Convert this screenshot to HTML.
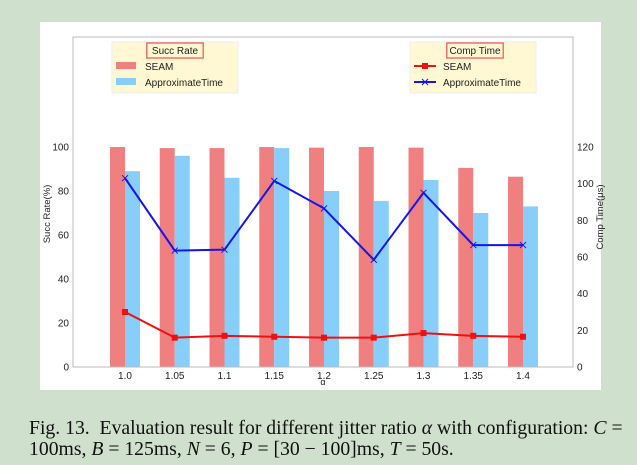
<!DOCTYPE html>
<html><head><meta charset="utf-8"><style>
body{margin:0;width:637px;height:465px;background:#cfe0cc;overflow:hidden;font-family:"Liberation Sans",sans-serif}
#panel{position:absolute;left:40px;top:22px;width:561px;height:368px;background:#fff}
#cap{position:absolute;left:29px;top:418px;font-family:"Liberation Serif",serif;font-size:19.7px;line-height:21px;color:#111;white-space:nowrap}
</style></head><body>
<div id="panel"></div>
<svg id="chart" width="637" height="465" style="position:absolute;left:0;top:0"></svg>
<div id="cap">Fig. 13.&nbsp; Evaluation result for different jitter ratio <i>α</i> with configuration: <i>C</i> =<br>100ms, <i>B</i> = 125ms, <i>N</i> = 6, <i>P</i> = [30 − 100]ms, <i>T</i> = 50s.</div>
<script>
const categories=["1.0","1.05","1.1","1.15","1.2","1.25","1.3","1.35","1.4"];
const succSeam=[100,99.5,99.5,100,99.7,100,99.7,90.5,86.5];
const succApprox=[89,96,86,99.5,80,75.5,85,70,73];
const timeSeam=[30,16,17,16.5,16,16,18.5,17,16.5];
const timeApprox=[103,63.5,64,101.5,86.5,58.5,95,66.5,66.5];
const leftTicks=[0,20,40,60,80,100];
const rightTicks=[0,20,40,60,80,100,120];
const NS="http://www.w3.org/2000/svg";
const svg=document.getElementById('chart');
const L=73,R=573,T=37,B=367;
const x=i=>125+i*(523-125)/(categories.length-1);
const yL=v=>B-v*2.2;
const yR=v=>B-v*(220/120);
function mk(tag,attrs,parent){const e=document.createElementNS(NS,tag);for(const k in attrs)e.setAttribute(k,attrs[k]);(parent||svg).appendChild(e);return e;}
function txt(s,attrs){const e=mk('text',Object.assign({'font-size':10,fill:'#222'},attrs));e.textContent=s;return e;}
categories.forEach((c,i)=>{
 let r=mk('rect',{x:x(i)-15,y:yL(succSeam[i]),width:15,height:B-yL(succSeam[i]),fill:'#f08080'});
 
 
 let b=mk('rect',{x:x(i),y:yL(succApprox[i]),width:15,height:B-yL(succApprox[i]),fill:'#87cefa'});
 
 
 let t=txt(c,{x:x(i),y:B+12,'text-anchor':'middle'});
 
 
});
let fr=mk('rect',{x:L,y:T,width:R-L,height:B-T,fill:'none',stroke:'#bbb','stroke-width':1});


leftTicks.forEach(v=>{let t=txt(v,{x:L-4,y:yL(v)+3.5,'text-anchor':'end'});});
rightTicks.forEach(v=>{let t=txt(v,{x:R+4,y:yR(v)+3.5});});
let yl=txt('Succ Rate(%)',{x:0,y:0,transform:`translate(50,214) rotate(-90)`,'text-anchor':'middle','font-size':9.5});

let yr=txt('Comp Time(μs)',{x:0,y:0,transform:`translate(603,217) rotate(-90)`,'text-anchor':'middle','font-size':9.5});

let xl=txt('α',{x:(L+R)/2,y:B+18,'text-anchor':'middle','font-size':9});

function line(data,color,name,marker){
 const p=mk('polyline',{points:data.map((v,i)=>x(i)+','+yR(v)).join(' '),fill:'none',stroke:color,'stroke-width':2});
 
 
 data.forEach((v,i)=>{
  let m;
  if(marker==='s'){m=mk('rect',{x:x(i)-3,y:yR(v)-3,width:6,height:6,fill:color});}
  else{m=mk('path',{d:`M${x(i)-3},${yR(v)-3}L${x(i)+3},${yR(v)+3}M${x(i)-3},${yR(v)+3}L${x(i)+3},${yR(v)-3}`,stroke:color,'stroke-width':1});}
  
  
 });
}
line(timeApprox,'#1515e8','line-approx-time','x');
line(timeSeam,'#ee1111','line-seam-time','s');
function legend(x0,title,name,isLine){
 const g=mk('g',{});
 
 
 mk('rect',{x:x0,y:42,width:126,height:51,fill:'#fff8d2',stroke:'#eee'},g);
 const tw=title.length*5.6+6;
 const tx=x0+63-tw/2+ (isLine?2:0);
 mk('rect',{x:tx,y:43,width:tw,height:15,fill:'none',stroke:'#f05050','stroke-width':1.2},g);
 const t=mk('text',{x:tx+tw/2,y:54,'text-anchor':'middle','font-size':10,fill:'#222'},g);t.textContent=title;
 if(isLine){
  mk('line',{x1:x0+4,x2:x0+26,y1:66,y2:66,stroke:'#ee1111','stroke-width':2},g);
  mk('rect',{x:x0+12,y:63,width:6,height:6,fill:'#ee1111'},g);
  mk('line',{x1:x0+4,x2:x0+26,y1:82,y2:82,stroke:'#1515e8','stroke-width':2},g);
  mk('path',{d:`M${x0+12},79L${x0+18},85M${x0+12},85L${x0+18},79`,stroke:'#1515e8'},g);
 }else{
  mk('rect',{x:x0+4,y:62,width:20,height:7,fill:'#f08080'},g);
  mk('rect',{x:x0+4,y:78,width:20,height:7,fill:'#87cefa'},g);
 }
 const a=mk('text',{x:x0+33,y:70,'font-size':10,fill:'#222'},g);a.textContent='SEAM';
 const b=mk('text',{x:x0+33,y:86,'font-size':10,fill:'#222'},g);b.textContent='ApproximateTime';
}
legend(112,'Succ Rate','legend-succ-rate',false);
legend(410,'Comp Time','legend-comp-time',true);
</script>
</body></html>
